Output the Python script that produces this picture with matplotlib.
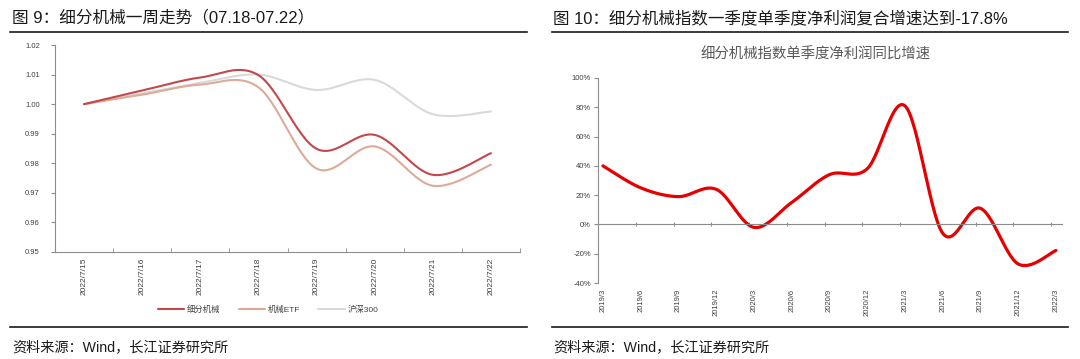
import numpy as np
import matplotlib.pyplot as plt
from matplotlib.lines import Line2D

plt.rcParams['font.family'] = ['Liberation Sans', 'Noto Sans CJK SC', 'DejaVu Sans']

# left chart: weekly trend
dates = ['2022/7/15', '2022/7/16', '2022/7/17', '2022/7/18',
         '2022/7/19', '2022/7/20', '2022/7/21', '2022/7/22']
machinery = [1.000, 1.0046, 1.0090, 1.0098, 0.9849, 0.9896, 0.9761, 0.9834]
machinery_etf = [1.000, 1.0032, 1.0066, 1.0057, 0.9782, 0.9857, 0.9724, 0.9795]
hs300 = [1.000, 1.0036, 1.0072, 1.0100, 1.0048, 1.0082, 0.9966, 0.9975]

# right chart: quarterly net profit growth
quarters = ['2019/3', '2019/6', '2019/9', '2019/12', '2020/3', '2020/6', '2020/9',
            '2020/12', '2021/3', '2021/6', '2021/9', '2021/12', '2022/3']
growth = [0.40, 0.25, 0.19, 0.24, -0.02, 0.15, 0.34, 0.38, 0.81, -0.06, 0.11, -0.27, -0.178]


def smooth(x, y, n=30):
    """Excel-like smoothed line (Catmull-Rom through the points)."""
    p = np.column_stack([x, y]).astype(float)
    p = np.vstack([p[0], p, p[-1]])
    out = []
    t = np.linspace(0, 1, n, endpoint=False)[:, None]
    for i in range(1, len(p) - 2):
        p0, p1, p2, p3 = p[i - 1], p[i], p[i + 1], p[i + 2]
        seg = 0.5 * (2 * p1 + (-p0 + p2) * t + (2 * p0 - 5 * p1 + 4 * p2 - p3) * t ** 2
                     + (-p0 + 3 * p1 - 3 * p2 + p3) * t ** 3)
        out.append(seg)
    out.append(p[-2][None, :])
    out = np.vstack(out)
    return out[:, 0], out[:, 1]


W, H = 1080, 359
fig = plt.figure(figsize=(W / 100, H / 100), dpi=100)

def fx(px):
    return px / W

def fy(py):
    return 1 - py / H

axis_gray = '#8c8c8c'
tick_color = '#404040'

# ---- header / footer text and rules ----
fig.text(fx(12), fy(17), '图 9：细分机械一周走势（07.18-07.22）', fontsize=12,
         va='center', ha='left', color='#1a1a1a')
fig.text(fx(553), fy(18), '图 10：细分机械指数一季度单季度净利润复合增速达到-17.8%', fontsize=11.9,
         va='center', ha='left', color='#1a1a1a')
for x0, x1 in [(10, 527), (552, 1068)]:
    fig.add_artist(Line2D([fx(x0), fx(x1)], [fy(32), fy(32)], color='#1a1a1a', lw=1.2))
    fig.add_artist(Line2D([fx(x0), fx(x1)], [fy(327), fy(327)], color='#1a1a1a', lw=1.2))
fig.text(fx(12), fy(347), '资料来源：Wind，长江证券研究所', fontsize=10.2, va='center', ha='left',
         color='#1a1a1a')
fig.text(fx(553), fy(347), '资料来源：Wind，长江证券研究所', fontsize=10.2, va='center', ha='left',
         color='#1a1a1a')

# ---- left chart ----
ax1 = fig.add_axes([fx(55), fy(252), fx(465), 207 / H])
xs = np.arange(len(dates))
series = [(machinery, '细分机械', '#c4474a'),
          (machinery_etf, '机械ETF', '#dcab98'),
          (hs300, '沪深300', '#d9d9d9')]
for vals, name, col in series[::-1]:
    sx, sy = smooth(xs, vals)
    ax1.plot(sx, sy, color=col, lw=1.5, label=name, solid_capstyle='round')
ax1.set_xlim(-0.5, len(dates) - 0.5)
ax1.set_ylim(0.95, 1.02)
ax1.set_yticks(np.arange(0.95, 1.0201, 0.01))
ax1.set_yticklabels([f'{v:.2f}' for v in np.arange(0.95, 1.0201, 0.01)])
ax1.set_xticks(xs)
ax1.set_xticklabels(dates, rotation=90)
ax1.set_xticks(np.arange(-0.5, len(dates)), minor=True)
ax1.tick_params(axis='x', which='major', length=0, pad=4, labelsize=6, colors=tick_color)
ax1.tick_params(axis='x', which='minor', length=3, direction='in', color=axis_gray)
ax1.tick_params(axis='y', length=3, direction='out', color=axis_gray, labelsize=5.5,
                labelcolor=tick_color, pad=8)
for s in ['top', 'right']:
    ax1.spines[s].set_visible(False)
for s in ['left', 'bottom']:
    ax1.spines[s].set_color(axis_gray)
    ax1.spines[s].set_linewidth(0.8)
handles, labels = ax1.get_legend_handles_labels()
fig.legend(handles[::-1], labels[::-1], loc='center', bbox_to_anchor=(fx(268), fy(310)),
           ncol=3, frameon=False, fontsize=6, handlelength=3.2, handletextpad=0.3,
           columnspacing=2.2, labelcolor='#404040')

# ---- right chart ----
ax2 = fig.add_axes([fx(598), fy(283), fx(464), 205 / H])
qx = np.arange(len(quarters))
sx, sy = smooth(qx, growth)
ax2.plot(sx, sy, color='#e60000', lw=2.3, solid_capstyle='round')
ax2.set_xlim(-0.13, len(quarters) - 1 + 0.16)
ax2.set_ylim(-0.4, 1.0)
yt = np.arange(-0.4, 1.001, 0.2)
ax2.set_yticks(yt)
ax2.set_yticklabels([f'{v * 100:.0f}%' for v in yt])
ax2.tick_params(axis='y', length=3, direction='out', color=axis_gray, labelsize=5.5,
                labelcolor=tick_color, pad=2)
ax2.spines['bottom'].set_position(('data', 0))
ax2.set_xticks(np.arange(1, len(quarters)) - 0.13)
ax2.tick_params(axis='x', length=3, direction='inout', color=axis_gray, labelbottom=False)
for s in ['top', 'right']:
    ax2.spines[s].set_visible(False)
for s in ['left', 'bottom']:
    ax2.spines[s].set_color(axis_gray)
    ax2.spines[s].set_linewidth(0.8)
sec = ax2.secondary_xaxis(0.0)
sec.set_xticks(qx)
sec.set_xticklabels(quarters, rotation=90)
sec.tick_params(length=0, labelsize=5.5, colors=tick_color, pad=4)
sec.spines['bottom'].set_visible(False)
fig.text(fx(816), fy(55), '细分机械指数单季度净利润同比增速', fontsize=10.4, ha='center', va='center',
         color='#595959')

fig.savefig('out.png', dpi=100)
